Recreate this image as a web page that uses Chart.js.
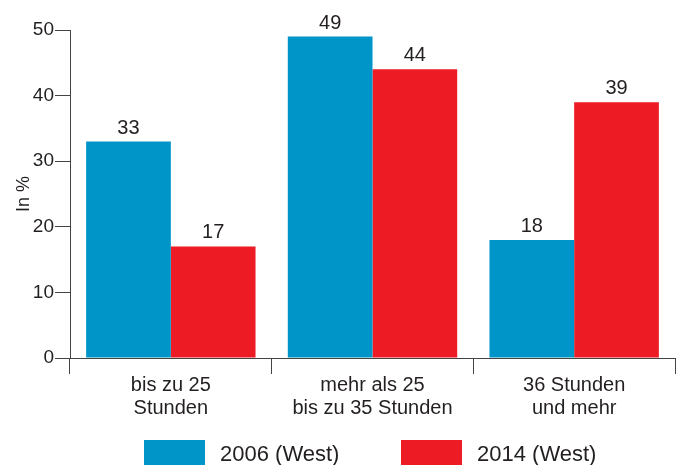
<!DOCTYPE html>
<html>
<head>
<meta charset="utf-8">
<script src="https://cdn.jsdelivr.net/npm/chart.js@4.4.0/dist/chart.umd.min.js"></script>
<style>
  html, body { margin: 0; padding: 0; background: #fff; }
  #wrap { width: 681px; height: 465px; }
</style>
</head>
<body>
<div id="wrap"><canvas id="myChart" width="681" height="465"></canvas></div>
<script>
var categories = [["bis zu 25", "Stunden"], ["mehr als 25", "bis zu 35 Stunden"], ["36 Stunden", "und mehr"]];
var seriesNames = ["2006 (West)", "2014 (West)"];
var values2006 = [33, 49, 18];
var values2014 = [17, 44, 39];
var barColors = ["#0095c8", "#ed1c24"];

var txt = "#231f20";
var fontFam = "'Liberation Sans', Arial, sans-serif";

// numbers above the bars
const valueLabels = {
  id: 'valueLabels',
  afterDatasetsDraw(chart) {
    const ctx = chart.ctx;
    ctx.save();
    ctx.font = "20px " + fontFam;
    ctx.fillStyle = txt;
    ctx.textAlign = "center";
    ctx.textBaseline = "alphabetic";
    chart.data.datasets.forEach((ds, i) => {
      chart.getDatasetMeta(i).data.forEach((bar, j) => {
        ctx.fillText(ds.data[j], bar.x, bar.y - 8);
      });
    });
    ctx.restore();
  }
};

// legend at the bottom
const bottomLegend = {
  id: 'bottomLegend',
  afterDraw(chart) {
    const ctx = chart.ctx;
    ctx.save();
    ctx.font = "22px " + fontFam;
    ctx.textBaseline = "middle";
    var xs = [144, 401];
    chart.data.datasets.forEach((ds, i) => {
      ctx.fillStyle = ds.backgroundColor;
      ctx.fillRect(xs[i], 440, 61, 26);
      ctx.fillStyle = txt;
      ctx.fillText(ds.label, xs[i] + 76, 455);
    });
    ctx.restore();
  }
};

const data = {
  labels: categories,
  datasets: [
    { label: seriesNames[0], data: values2006, backgroundColor: barColors[0] },
    { label: seriesNames[1], data: values2014, backgroundColor: barColors[1] }
  ]
};

const config = {
  type: 'bar',
  data: data,
  options: {
    responsive: false,
    animation: false,
    layout: { padding: { top: 30, right: 6, bottom: 47, left: 0 } },
    datasets: { bar: { categoryPercentage: 0.84, barPercentage: 1.0 } },
    plugins: {
      legend: { display: false },
      tooltip: { enabled: false }
    },
    scales: {
      x: {
        offset: true,
        grid: { drawOnChartArea: false, offset: true, tickLength: 16, color: "#444", lineWidth: 1 },
        border: { color: "#444", width: 1 },
        ticks: { color: txt, font: { family: fontFam, size: 20, lineHeight: 1.15 }, padding: 0, maxRotation: 0 },
        afterFit(scale) { scale.height = 60; }
      },
      y: {
        min: 0, max: 50,
        grid: { drawOnChartArea: false, tickLength: 15, color: "#444", lineWidth: 1 },
        border: { color: "#444", width: 1 },
        ticks: { stepSize: 10, color: txt, font: { family: fontFam, size: 19 }, padding: 1 },
        title: { display: true, text: "In %", color: txt, font: { family: fontFam, size: 18 }, padding: { top: 13, bottom: 0 } },
        afterFit(scale) { scale.width = 70; }
      }
    }
  },
  plugins: [valueLabels, bottomLegend]
};

const myChart = new Chart(document.getElementById('myChart'), config);
</script>
</body>
</html>
